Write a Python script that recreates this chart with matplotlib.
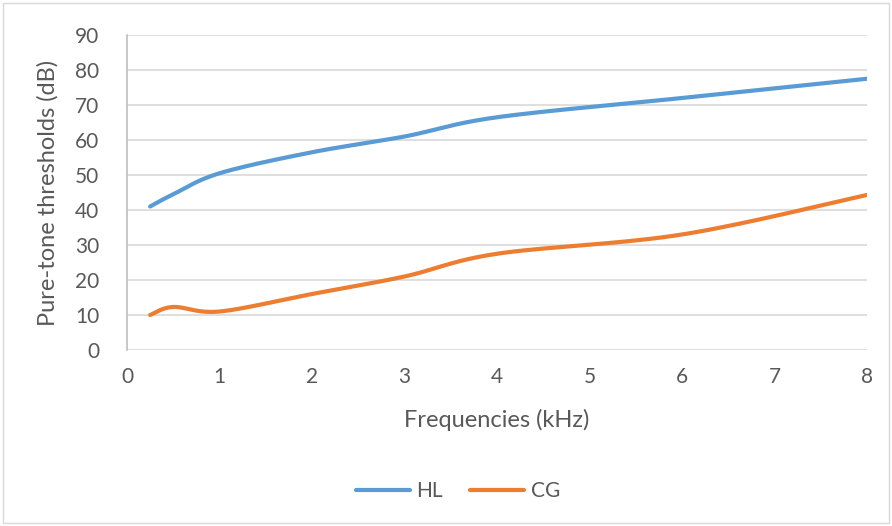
import numpy as np
import matplotlib
matplotlib.use("Agg")
import matplotlib.pyplot as plt
from matplotlib.patches import Rectangle

# audiogram frequencies (kHz) and mean thresholds (dB)
freqs = [0.25, 0.5, 1, 2, 3, 4, 6, 8]
hl = [41, 44.5, 50.5, 56.5, 61, 66.5, 72, 77.5]
cg = [10, 12.3, 11, 16, 21, 27.5, 33, 44.3]

blue = "#5B9BD5"
orange = "#ED7D31"
grey_txt = "#595959"


def smooth(x, y, n=30):
    # cardinal (catmull-rom style) bezier smoothing, like office charts
    x = np.asarray(x, float)
    y = np.asarray(y, float)
    px = np.concatenate([[x[0]], x, [x[-1]]])
    py = np.concatenate([[y[0]], y, [y[-1]]])
    xs, ys = [], []
    t = np.linspace(0, 1, n)
    for i in range(1, len(px) - 2):
        p0 = np.array([px[i], py[i]])
        p3 = np.array([px[i + 1], py[i + 1]])
        p1 = p0 + (np.array([px[i + 1], py[i + 1]]) - np.array([px[i - 1], py[i - 1]])) / 6
        p2 = p3 - (np.array([px[i + 2], py[i + 2]]) - np.array([px[i], py[i]])) / 6
        b = ((1 - t) ** 3)[:, None] * p0 + (3 * (1 - t) ** 2 * t)[:, None] * p1 \
            + (3 * (1 - t) * t ** 2)[:, None] * p2 + (t ** 3)[:, None] * p3
        xs.extend(b[:, 0])
        ys.extend(b[:, 1])
    return xs, ys


plt.rcParams['font.family'] = ['Lato', 'DejaVu Sans']

fig = plt.figure(figsize=(8.92, 5.26), dpi=100)
ax = fig.add_axes([127 / 892, 176 / 526, 740 / 892, 315 / 526])

for y, c, name in [(hl, blue, "HL"), (cg, orange, "CG")]:
    sx, sy = smooth(freqs, y)
    ax.plot(sx, sy, color=c, lw=3, label=name, solid_capstyle="round", zorder=3)

ax.set_xlim(0, 8)
ax.set_ylim(0, 90)
ax.set_xticks(range(0, 9))
ax.set_yticks(range(0, 91, 10))
ax.yaxis.grid(True, color="#D9D9D9", lw=1.2)
ax.set_axisbelow(True)
for s in ["top", "right", "bottom"]:
    ax.spines[s].set_visible(False)
ax.spines["left"].set_color("#BFBFBF")
ax.spines["left"].set_linewidth(1.2)
ax.tick_params(length=0, labelsize=15, colors=grey_txt)
ax.tick_params(axis="y", pad=20)
ax.tick_params(axis="x", pad=12)
ax.set_xlabel("Frequencies (kHz)", fontsize=17, color=grey_txt, labelpad=16)
ax.set_ylabel("Pure-tone thresholds (dB)", fontsize=17, color=grey_txt, labelpad=12)

leg = fig.legend(loc="center", bbox_to_anchor=(458 / 892, 1 - 491 / 526), ncol=2,
                 frameon=False, fontsize=15, handlelength=2.6, columnspacing=1.3,
                 handletextpad=0.3)
for t in leg.get_texts():
    t.set_color(grey_txt)

fig.patches.append(Rectangle((3 / 892, 3 / 526), 1 - 6 / 892, 1 - 6 / 526,
                             transform=fig.transFigure, fill=False,
                             edgecolor="#D9D9D9", lw=1))

fig.savefig("out.png", dpi=100)
